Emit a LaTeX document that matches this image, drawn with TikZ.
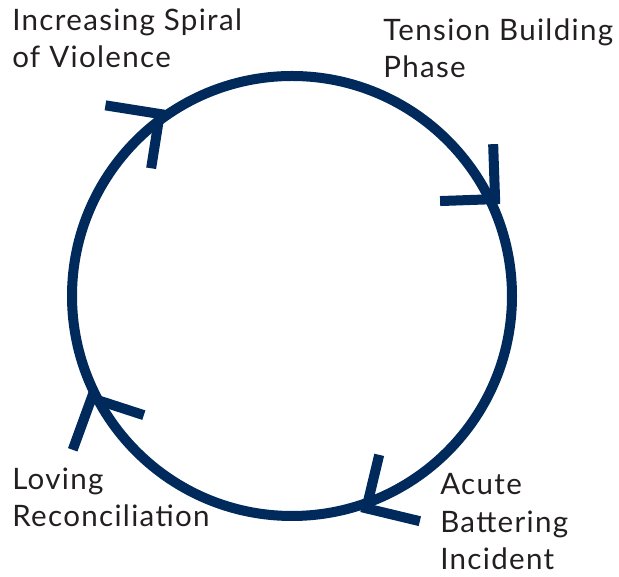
\documentclass[tikz,border=0pt]{standalone}
\usepackage{fontspec}
\setmainfont{Lato}[LetterSpace=4.5]
\usetikzlibrary{positioning}
\definecolor{cyclenavy}{RGB}{0,41,92}
\definecolor{labelgray}{RGB}{35,31,32}

\begin{document}
\begin{tikzpicture}[x=0.025cm,y=0.025cm,
  cycleline/.style={draw=cyclenavy, line width=0.25cm},
  phase/.style={anchor=base west, align=left, inner sep=0pt, text=labelgray,
    font=\fontsize{21pt}{27pt}\selectfont}]
\useasboundingbox (0,0) rectangle (619,577);

\coordinate (C) at (292,281);
\draw[cycleline] (C) circle (220);

% arrow heads, clockwise
\path (C) ++(126:225) coordinate (T1);
\path (C) ++(25.5:225) coordinate (T2);
\path (C) ++(-70.7:225) coordinate (T3);
\path (C) ++(207:225) coordinate (T4);

\draw[cycleline] ([shift={(171:55)}]T1) -- (T1) -- ([shift={(261:55)}]T1);
\draw[cycleline] ([shift={(92:55)}]T2) -- (T2) -- ([shift={(182:55)}]T2);
\draw[cycleline] ([shift={(76.5:55)}]T3) -- (T3) -- ([shift={(-13.5:55)}]T3);
\draw[cycleline] ([shift={(-18:55)}]T4) -- (T4) -- ([shift={(-110:55)}]T4);

% phase labels (base = last line)
\node[phase] (spiral) at (12,509) {Increasing Spiral\\of Violence};
\node[phase] (tension) at (383,499) {Tension Building\\Phase};
\node[phase] (acute) at (440,7) {Acute\\Battering\\Incident};
\node[phase] (loving) at (12,50) {Loving\\Reconciliation};
\end{tikzpicture}
\end{document}
